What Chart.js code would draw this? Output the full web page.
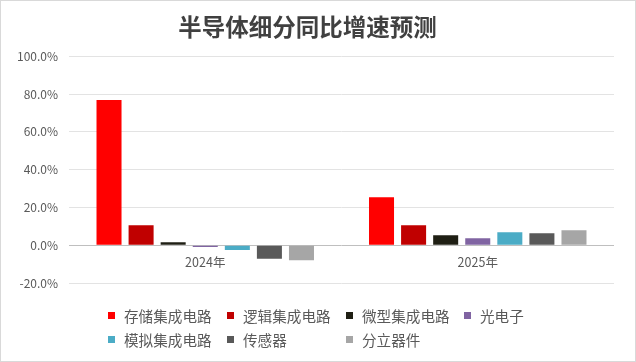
<!DOCTYPE html>
<html><head><meta charset="utf-8">
<script src="https://cdn.jsdelivr.net/npm/chart.js@4/dist/chart.umd.min.js"></script>
<style>
html,body{margin:0;padding:0;background:#fff;}
#wrap{position:relative;width:636px;height:362px;box-sizing:border-box;border:1px solid #d9d9d9;}
canvas{position:absolute;left:0;top:0;}
#legend{position:absolute;left:107px;top:305px;display:grid;grid-template-columns:119px 119px 118px 100px;row-gap:6px;font-family:"Noto Sans CJK SC",sans-serif;font-size:14.6px;color:#595959;}
.it{display:flex;align-items:center;height:18px;white-space:nowrap;}
.bx{width:7px;height:7px;margin-right:9px;}
</style></head>
<body><div id="wrap"><canvas id="c" width="636" height="362"></canvas><div id="legend"></div></div>
<script>
const categories = ['2024年','2025年'];
const seriesNames = ['存储集成电路','逻辑集成电路','微型集成电路','光电子','模拟集成电路','传感器','分立器件'];
const growth2024 = [76.8, 10.6, 1.6, -1.0, -2.5, -7.2, -7.9];
const growth2025 = [25.4, 10.6, 5.3, 3.7, 6.9, 6.3, 7.9];
const yTicks = [-20, 0, 20, 40, 60, 80, 100];
const seriesColors = ['#FF0000','#C00000','#1F1F14','#8064A2','#4BACC6','#595959','#A6A6A6'];

const datasets = seriesNames.map((n,i)=>({
  label:n, data:[growth2024[i], growth2025[i]], backgroundColor:seriesColors[i],
  categoryPercentage:0.824, barPercentage:0.78
}));

const FONT = '"Noto Sans CJK SC", sans-serif';
new Chart(document.getElementById('c'),{
  type:'bar',
  data:{labels:categories,datasets},
  options:{
    responsive:false,animation:false,
    layout:{padding:{left:0,right:23,top:10,bottom:80}},
    plugins:{
      legend:{display:false},tooltip:{enabled:false},
      title:{display:true,text:'半导体细分同比增速预测',color:'#404040',
        font:{family:FONT,size:23.5,weight:'bold'},padding:{top:2,bottom:15}}
    },
    scales:{
      x:{position:{y:0},grid:{display:false},border:{display:false},
        ticks:{color:'#595959',font:{family:FONT,size:12.5},padding:2}},
      y:{min:-20,max:100,
        afterFit:(s)=>{s.width=68;},
        afterBuildTicks:(s)=>{s.ticks=yTicks.map(v=>({value:v}));},
        grid:{color:(ctx)=>ctx.tick&&ctx.tick.value===0?'#bfbfbf':'#e3e3e3',drawTicks:false},
        border:{display:false},
        ticks:{color:'#595959',font:{family:FONT,size:12},padding:11,
          callback:(v)=>v.toFixed(1)+'%'}}
    }
  }
});

const lg=document.getElementById('legend');
seriesNames.forEach((n,i)=>{
  const d=document.createElement('div');d.className='it';
  d.innerHTML='<span class="bx" style="background:'+seriesColors[i]+'"></span><span>'+n+'</span>';
  lg.appendChild(d);
});
</script></body></html>
